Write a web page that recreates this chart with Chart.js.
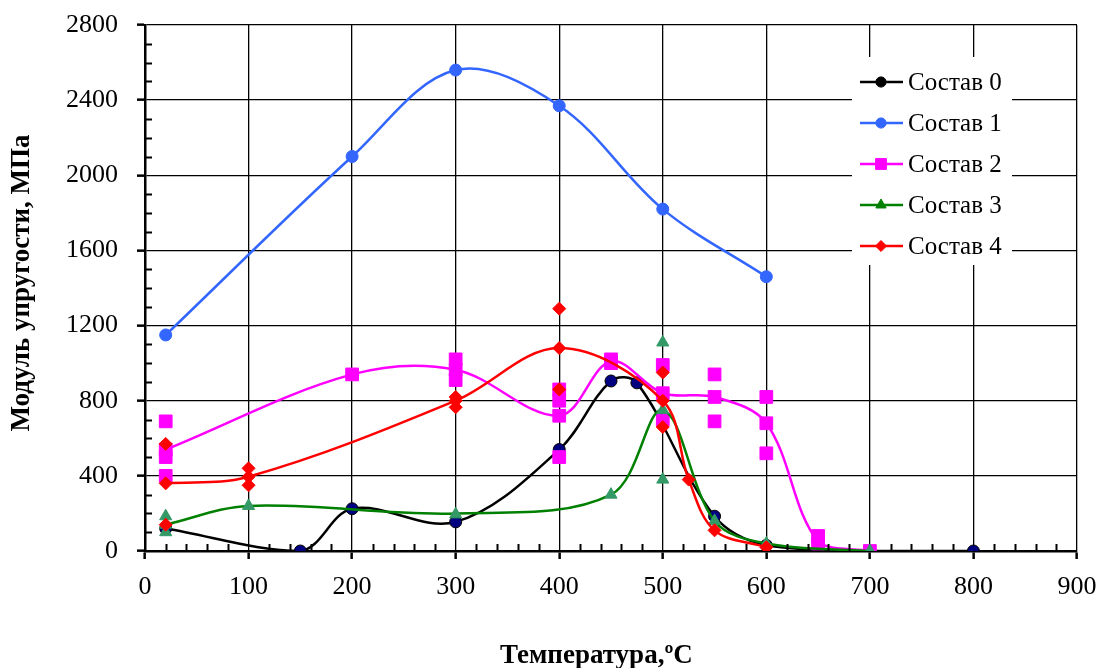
<!DOCTYPE html>
<html>
<head>
<meta charset="utf-8">
<script src="https://cdn.jsdelivr.net/npm/chart.js@4.4.1/dist/chart.umd.min.js"></script>
<style>
  html, body { margin: 0; padding: 0; background: #fff; }
</style>
</head>
<body>
<canvas id="chart" width="1100" height="668"></canvas>
<script>
// --- Data ---
const seriesNames = ['Состав 0', 'Состав 1', 'Состав 2', 'Состав 3', 'Состав 4'];
const xTicks = [0, 100, 200, 300, 400, 500, 600, 700, 800, 900];
const yTicks = [0, 400, 800, 1200, 1600, 2000, 2400, 2800];

// Состав 0: smoothed curve through these points, same points as markers
const s0Temp = [20, 150, 200, 300, 400, 450, 475, 550, 600, 700, 800];
const s0Val = [120, 0, 225, 155, 540, 905, 895, 185, 30, 0, 0];

// Состав 1
const s1Temp = [20, 200, 300, 400, 500, 600];
const s1Val = [1150, 2100, 2560, 2370, 1820, 1460];

// Состав 2: curve (means) + individual measurements
const s2Temp = [20, 200, 300, 400, 450, 500, 550, 600, 650, 700];
const s2Val = [540, 940, 965, 720, 1010, 840, 820, 680, 50, 0];
const s2MarkTemp = [20, 200, 300, 400, 450, 500, 550, 600, 650, 700];
const s2Marks = [[690, 540, 500, 400], [940], [1020, 965, 910], [860, 800, 720, 500], [1020, 1000],
                 [990, 840, 700], [940, 820, 690], [820, 680, 520], [80, 40], [0]];

// Состав 3
const s3Temp = [20, 100, 300, 450, 500, 550, 600, 700];
const s3Val = [140, 240, 200, 300, 750, 160, 40, 0];
const s3MarkTemp = [20, 100, 300, 450, 500, 550, 600, 700];
const s3Marks = [[185, 140, 100], [240], [195], [300], [1110, 750, 380], [160], [40], [0]];

// Состав 4
const s4Temp = [20, 100, 300, 400, 500, 525, 550, 600];
const s4Val = [360, 395, 800, 1080, 800, 380, 110, 20];
const s4MarkTemp = [20, 100, 300, 400, 500, 525, 550, 600];
const s4Marks = [[570, 360, 140], [440, 395, 350], [820, 800, 765], [1290, 1080, 860], [950, 800, 660],
                 [380], [110], [20]];

// --- helpers ---
const pts = (xs, ys) => xs.map((x, i) => ({ x: x, y: ys[i] }));
const groupPts = (ts, groups) => {
    const out = [];
    ts.forEach((t, i) => groups[i].forEach(v => out.push({ x: t, y: v })));
    return out;
};

const SERIF = '"Liberation Serif", "Times New Roman", serif';

const styles = [
    { line: '#000000', fill: '#000080', border: '#000000', shape: 'circle', r: 6 },
    { line: '#3366FF', fill: '#3366FF', border: '#3366FF', shape: 'circle', r: 6 },
    { line: '#FF00FF', fill: '#FF00FF', border: '#FF00FF', shape: 'rect', r: 9 },
    { line: '#008000', fill: '#339966', border: '#339966', shape: 'triangle', r: 7 },
    { line: '#FF0000', fill: '#FF0000', border: '#FF0000', shape: 'rectRot', r: 6.5 }
];

const curves = [pts(s0Temp, s0Val), pts(s1Temp, s1Val), pts(s2Temp, s2Val), pts(s3Temp, s3Val), pts(s4Temp, s4Val)];
const marks = [pts(s0Temp, s0Val), pts(s1Temp, s1Val), groupPts(s2MarkTemp, s2Marks),
               groupPts(s3MarkTemp, s3Marks), groupPts(s4MarkTemp, s4Marks)];

const datasets = [];
curves.forEach((data, i) => {
    const st = styles[i];
    // later series drawn on top (lower order = on top)
    datasets.push({
        label: seriesNames[i],
        data: data,
        showLine: true,
        borderColor: st.line,
        borderWidth: 2.5,
        pointRadius: 0,
        tension: 0.35,
        order: 20 - i * 2
    });
    datasets.push({
        label: seriesNames[i] + ' points',
        data: marks[i],
        showLine: false,
        pointStyle: st.shape,
        pointRadius: st.r,
        pointBackgroundColor: st.fill,
        pointBorderColor: st.border,
        pointBorderWidth: 1,
        order: 19 - i * 2
    });
});

// --- Plugins: minor ticks, titles, boxed legend ---
const minorTicks = {
    id: 'minorTicks',
    afterDraw(chart) {
        const { ctx, chartArea: a, scales: { x, y } } = chart;
        ctx.save();
        ctx.strokeStyle = '#000';
        ctx.lineWidth = 2;
        ctx.beginPath();
        for (let v = 20; v < 900; v += 20) {
            if (v % 100 === 0) continue;
            const px = Math.round(x.getPixelForValue(v)) + 0.5;
            ctx.moveTo(px, a.bottom);
            ctx.lineTo(px, a.bottom - 7);
        }
        for (let v = 100; v < 2800; v += 100) {
            if (v % 400 === 0) continue;
            const py = Math.round(y.getPixelForValue(v)) + 0.5;
            ctx.moveTo(a.left, py);
            ctx.lineTo(a.left + 7, py);
        }
        ctx.stroke();
        ctx.restore();
    }
};

const axisTitles = {
    id: 'axisTitles',
    afterDraw(chart) {
        const ctx = chart.ctx;
        ctx.save();
        ctx.fillStyle = '#000';
        ctx.font = 'bold 27px ' + SERIF;
        ctx.textAlign = 'left';
        ctx.textBaseline = 'alphabetic';
        ctx.fillText('Температура,ºC', 500, 663);
        ctx.textAlign = 'center';
        ctx.textBaseline = 'middle';
        ctx.translate(22, 283);
        ctx.rotate(-Math.PI / 2);
        ctx.fillText('Модуль упругости, МПа', 0, 0);
        ctx.restore();
    }
};

const boxLegend = {
    id: 'boxLegend',
    afterDraw(chart) {
        const ctx = chart.ctx;
        const a = chart.chartArea;
        const left = a.right - 225, top = a.top + 32;
        ctx.save();
        ctx.fillStyle = '#fff';
        ctx.fillRect(left, top, 160, 208);
        ctx.font = '25px ' + SERIF;
        ctx.textBaseline = 'middle';
        ctx.textAlign = 'left';
        seriesNames.forEach((name, i) => {
            const st = styles[i];
            const yy = top + 25 + i * 41;
            ctx.strokeStyle = st.line;
            ctx.lineWidth = 2.5;
            ctx.beginPath();
            ctx.moveTo(left + 8, yy);
            ctx.lineTo(left + 51, yy);
            ctx.stroke();
            ctx.fillStyle = st.line;
            ctx.strokeStyle = st.line;
            ctx.lineWidth = 1;
            Chart.helpers.drawPoint(ctx, { pointStyle: st.shape, radius: st.r * 0.85, borderWidth: 1, rotation: 0 }, left + 29, yy);
            ctx.fillStyle = '#000';
            ctx.fillText(name, left + 56, yy + 1);
        });
        ctx.restore();
    }
};

new Chart(document.getElementById('chart'), {
    type: 'scatter',
    data: { datasets: datasets },
    options: {
        responsive: false,
        animation: false,
        devicePixelRatio: 1,
        layout: { padding: { top: 25, right: 23, left: 0, bottom: 0 } },
        plugins: {
            legend: { display: false },
            tooltip: { enabled: false },
            title: { display: false }
        },
        scales: {
            x: {
                type: 'linear',
                min: 0,
                max: 900,
                afterBuildTicks: (scale) => { scale.ticks = xTicks.map(v => ({ value: v })); },
                afterFit: (scale) => {
                    scale.height = 117;
                    scale.paddingLeft = 0;
                    scale.paddingRight = 0;
                },
                ticks: {
                    color: '#000',
                    font: { family: SERIF, size: 26 },
                    padding: 13,
                    callback: (v) => String(v)
                },
                grid: { color: '#000', lineWidth: 1.3, tickLength: 8, tickWidth: 2.5, tickColor: '#000' },
                border: { color: '#000', width: 2.5 }
            },
            y: {
                type: 'linear',
                min: 0,
                max: 2800,
                afterBuildTicks: (scale) => { scale.ticks = yTicks.map(v => ({ value: v })); },
                afterFit: (scale) => {
                    scale.width = 145;
                    scale.paddingTop = 0;
                    scale.paddingBottom = 0;
                },
                ticks: {
                    color: '#000',
                    font: { family: SERIF, size: 26 },
                    padding: 19,
                    callback: (v) => String(v)
                },
                grid: { color: '#000', lineWidth: 1.3, tickLength: 8, tickWidth: 2.5, tickColor: '#000' },
                border: { color: '#000', width: 2.5 }
            }
        }
    },
    plugins: [minorTicks, axisTitles, boxLegend]
});
</script>
</body>
</html>
